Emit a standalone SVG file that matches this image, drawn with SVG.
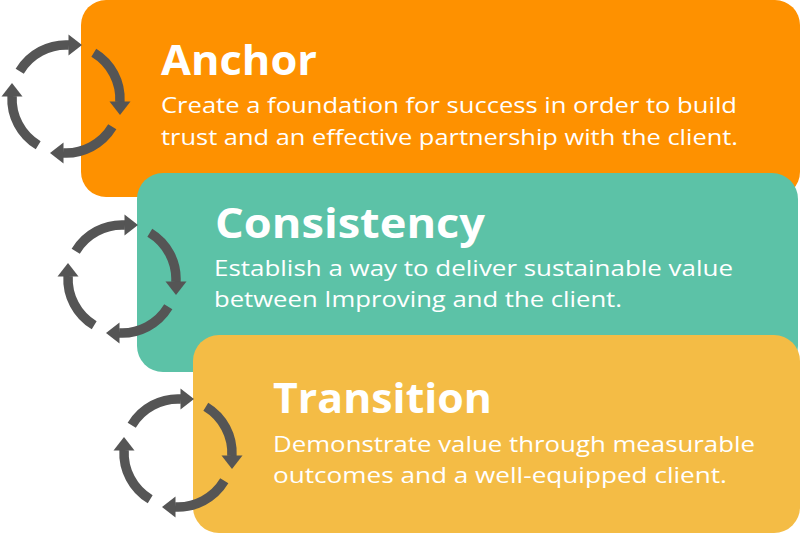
<svg xmlns="http://www.w3.org/2000/svg" xmlns:xlink="http://www.w3.org/1999/xlink" width="800" height="534" viewBox="0 0 800 534">
  <style>
    .title { font-family: "Open Sans", "Liberation Sans", sans-serif; font-weight: 700; font-size: 42px; fill: #ffffff; }
    .body { font-family: "Open Sans", "Liberation Sans", sans-serif; font-weight: 400; font-size: 22px; fill: #ffffff; }
    .arc { fill: none; stroke: #555555; stroke-width: 9.5; stroke-linecap: butt; }
    .head { fill: #555555; }
  </style>
  <defs>
    <g id="seg">
      <path class="arc" d="M 27.81 -46.29 A 54 54 0 0 1 53.92 3"/>
      <polygon class="head" points="43.5,2.5 64.5,2.5 54,16"/>
    </g>
    <g id="cycle">
      <use xlink:href="#seg"/>
      <use xlink:href="#seg" transform="rotate(90)"/>
      <use xlink:href="#seg" transform="rotate(180)"/>
      <use xlink:href="#seg" transform="rotate(270)"/>
    </g>
  </defs>

  <g id="anchor">
    <rect x="81" y="0" width="719" height="197" rx="25" fill="#FE9100"/>
    <text class="title" x="161" y="75" textLength="156" lengthAdjust="spacingAndGlyphs">Anchor</text>
    <text class="body" x="161" y="113" textLength="576" lengthAdjust="spacingAndGlyphs">Create a foundation for success in order to build</text>
    <text class="body" x="161" y="145" textLength="577" lengthAdjust="spacingAndGlyphs">trust and an effective partnership with the client.</text>
  </g>

  <g id="consistency">
    <rect x="137" y="173" width="661" height="199" rx="26" fill="#5CC2A7"/>
    <text class="title" x="215" y="238" textLength="270" lengthAdjust="spacingAndGlyphs">Consistency</text>
    <text class="body" x="214" y="276" textLength="519" lengthAdjust="spacingAndGlyphs">Establish a way to deliver sustainable value</text>
    <text class="body" x="214" y="307" textLength="408" lengthAdjust="spacingAndGlyphs">between Improving and the client.</text>
  </g>

  <g id="transition">
    <rect x="193" y="335" width="607" height="198" rx="26" fill="#F4BC45"/>
    <text class="title" x="273" y="413" textLength="219" lengthAdjust="spacingAndGlyphs">Transition</text>
    <text class="body" x="273" y="452" textLength="482" lengthAdjust="spacingAndGlyphs">Demonstrate value through measurable</text>
    <text class="body" x="273" y="483" textLength="454" lengthAdjust="spacingAndGlyphs">outcomes and a well-equipped client.</text>
  </g>

  <g id="cycle-anchor">
    <use xlink:href="#cycle" transform="translate(66,99)"/>
  </g>
  <g id="cycle-consistency">
    <use xlink:href="#cycle" transform="translate(122,279)"/>
  </g>
  <g id="cycle-transition">
    <use xlink:href="#cycle" transform="translate(178,453)"/>
  </g>
</svg>
